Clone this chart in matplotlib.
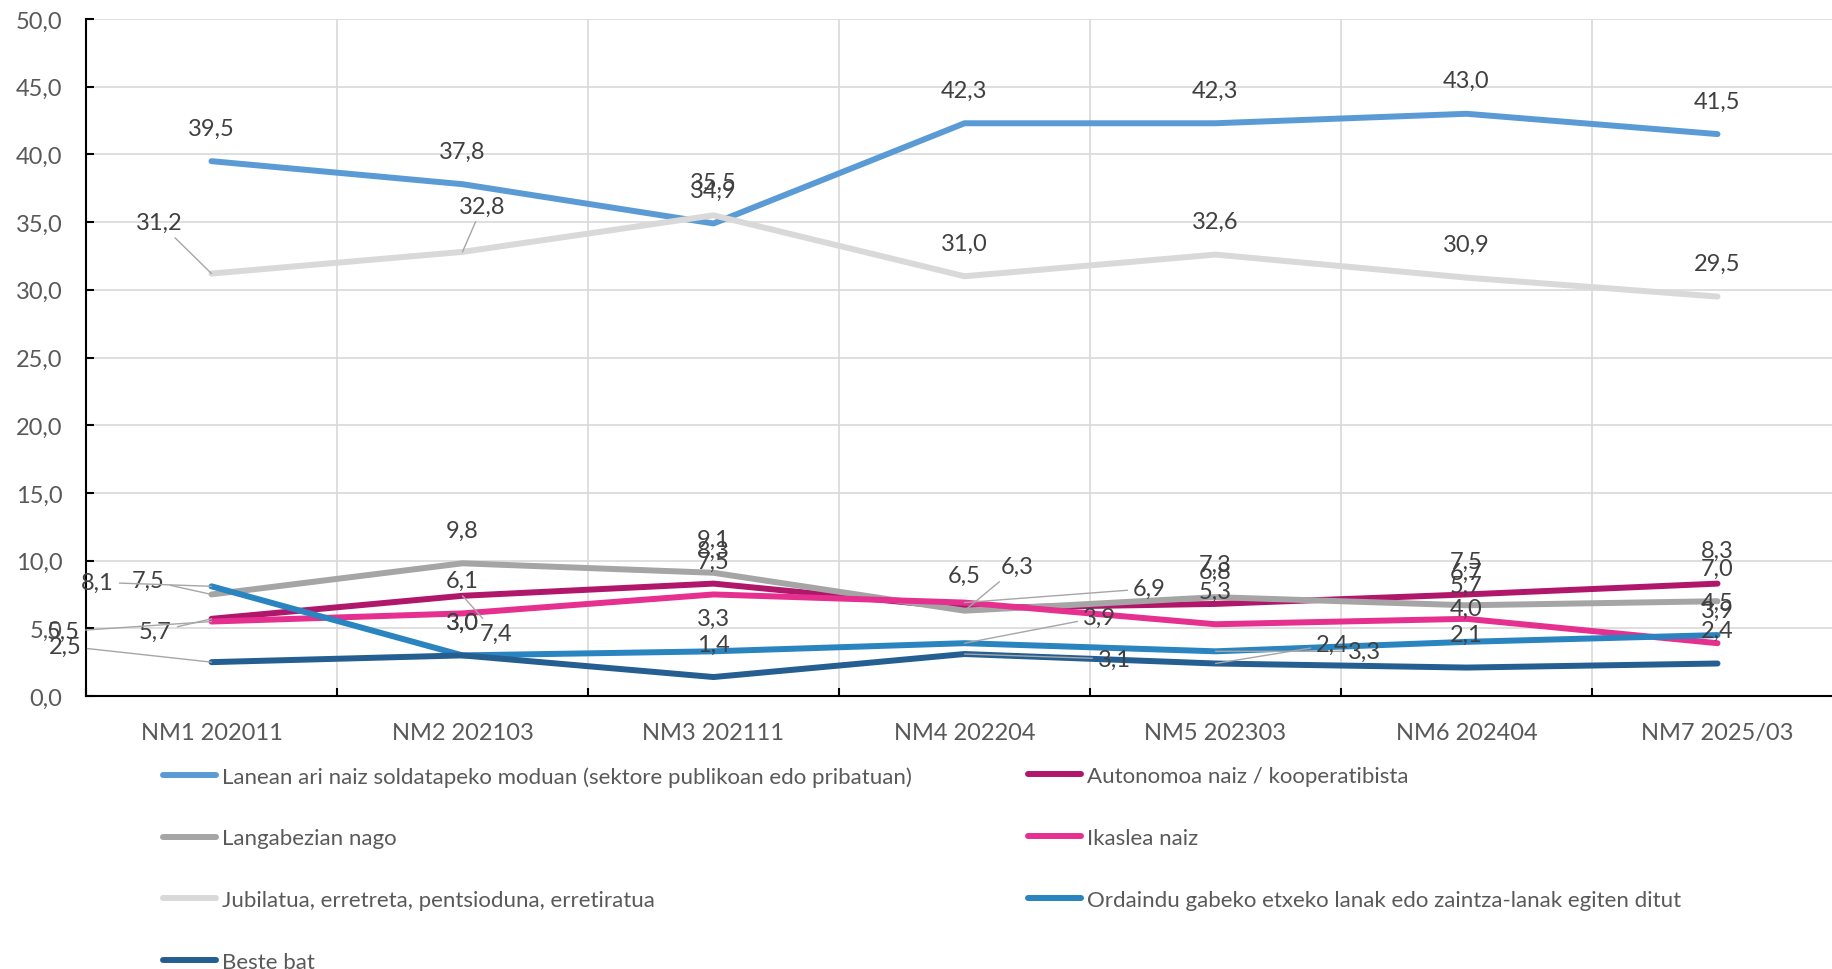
import matplotlib.pyplot as plt
from matplotlib.ticker import FixedLocator, FuncFormatter

plt.rcParams['font.family'] = ['Lato', 'DejaVu Sans']

categories = ["NM1 202011", "NM2 202103", "NM3 202111", "NM4 202204",
              "NM5 202303", "NM6 202404", "NM7 2025/03"]

lanean = [39.5, 37.8, 34.9, 42.3, 42.3, 43.0, 41.5]
autonomoa = [5.7, 7.4, 8.3, 6.5, 6.8, 7.5, 8.3]
langabezian = [7.5, 9.8, 9.1, 6.3, 7.3, 6.7, 7.0]
ikaslea = [5.5, 6.1, 7.5, 6.9, 5.3, 5.7, 3.9]
jubilatua = [31.2, 32.8, 35.5, 31.0, 32.6, 30.9, 29.5]
ordaindu = [8.1, 3.0, 3.3, 3.9, 3.3, 4.0, 4.5]
beste = [2.5, 3.0, 1.4, 3.1, 2.4, 2.1, 2.4]

# (name, values, colour, labels moved off the point: index -> pixel offset)
series = [
    ("Lanean ari naiz soldatapeko moduan (sektore publikoan edo pribatuan)", lanean, "#5B9BD5", {}),
    ("Autonomoa naiz / kooperatibista", autonomoa, "#B0176B", {0: (-56, -13), 1: (34, -38)}),
    ("Langabezian nago", langabezian, "#A5A5A5", {0: (-63, 14), 3: (53, 44)}),
    ("Ikaslea naiz", ikaslea, "#E5308F", {0: (-148, -10), 3: (185, 14)}),
    ("Jubilatua, erretreta, pentsioduna, erretiratua", jubilatua, "#D9D9D9", {0: (-52, 51), 1: (20, 46)}),
    ("Ordaindu gabeko etxeko lanak edo zaintza-lanak egiten ditut", ordaindu, "#2A84C0",
     {0: (-114, 4), 3: (135, 26), 4: (149, 0)}),
    ("Beste bat", beste, "#255E91", {0: (-146, 16), 3: (150, -5), 4: (117, 19)}),
]

W, H = 1832, 970
fig = plt.figure(figsize=(W / 100, H / 100), dpi=100)
ax = fig.add_axes([86 / W, 273 / H, 1757 / W, 677 / H])

fs = 17
x = list(range(len(categories)))
handles = {}
for name, vals, col, moved in series:
    ln, = ax.plot(x, vals, color=col, lw=4.3, solid_capstyle='round',
                  solid_joinstyle='round', label=name, zorder=3)
    handles[name] = ln
    for i, v in enumerate(vals):
        txt = f"{v:.1f}".replace('.', ',')
        if i in moved:
            ax.annotate(txt, (i, v), xytext=moved[i], textcoords='offset pixels',
                        ha='center', va='center', fontsize=fs, color='#404040',
                        arrowprops=dict(arrowstyle='-', color='#A6A6A6', lw=1,
                                        shrinkA=2, shrinkB=0), zorder=5)
        else:
            ax.annotate(txt, (i, v), xytext=(0, 33), textcoords='offset pixels',
                        ha='center', va='center', fontsize=fs, color='#404040', zorder=5)

ax.set_xlim(-0.5, 6.5)
ax.set_ylim(0, 50)
ax.set_xticks(x)
ax.set_xticklabels(categories)
ax.xaxis.set_minor_locator(FixedLocator([i + 0.5 for i in range(-1, 7)]))
ax.set_yticks(range(0, 51, 5))
ax.yaxis.set_major_formatter(FuncFormatter(lambda v, p: f"{v:.1f}".replace('.', ',')))

ax.grid(axis='y', which='major', color='#D9D9D9', lw=1.2)
ax.grid(axis='x', which='minor', color='#D9D9D9', lw=1.2)
ax.set_axisbelow(True)

ax.tick_params(axis='x', which='major', length=0, pad=19, labelsize=fs, labelcolor='#595959')
ax.tick_params(axis='x', which='minor', direction='in', length=6, width=1.5, color='black')
ax.tick_params(axis='y', direction='in', length=6, width=1.5, color='black', pad=17,
               labelsize=fs, labelcolor='#595959')

for s in ['top', 'right']:
    ax.spines[s].set_visible(False)
for s in ['left', 'bottom']:
    ax.spines[s].set_color('black')
    ax.spines[s].set_linewidth(1.5)

col1 = [series[0][0], series[2][0], series[4][0], series[6][0]]
col2 = [series[1][0], series[3][0], series[5][0]]
leg_kw = dict(frameon=False, fontsize=16, labelcolor='#595959', handlelength=2.4,
              handletextpad=0.25, labelspacing=1.88, borderpad=0, borderaxespad=0)
leg1 = fig.legend([handles[n] for n in col1], col1, loc='center left',
                  bbox_to_anchor=(163 / W, 1 - 870 / H), **leg_kw)
leg2 = fig.legend([handles[n] for n in col2], col2, loc='center left',
                  bbox_to_anchor=(1028 / W, 1 - 839 / H), **leg_kw)

fig.savefig("out.png", dpi=100)
